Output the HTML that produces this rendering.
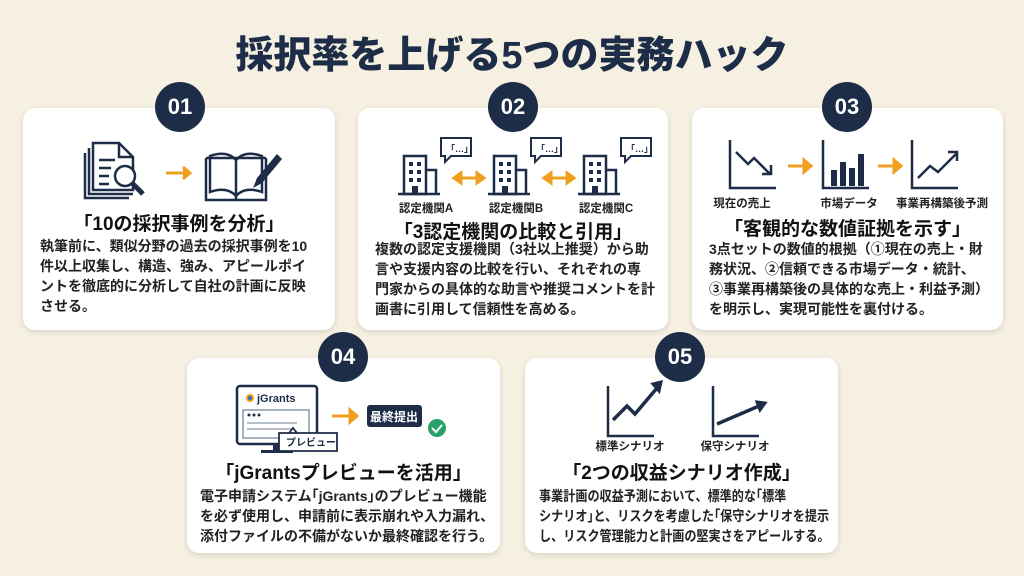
<!DOCTYPE html>
<html><head><meta charset="utf-8"><style>
*{margin:0;padding:0;box-sizing:border-box}
body{width:1024px;height:576px;background:#f5f0e1;font-family:"Liberation Sans","Noto Sans CJK JP",sans-serif;color:#1c1c1c;position:relative;overflow:hidden}
.title{position:absolute;top:24px;left:0;width:1024px;text-align:center;font-size:38px;font-weight:900;color:#1e2d47;letter-spacing:0px}
.card{position:absolute;background:#fff;border-radius:12px;box-shadow:0 2px 6px rgba(0,0,0,.12)}
.badge{position:absolute;width:50px;height:50px;border-radius:50%;background:#1e2d47;color:#fff;font-weight:700;font-size:22px;text-align:center;line-height:50px}
.h{position:absolute;left:0;width:100%;text-align:center;font-size:19px;font-weight:700;color:#111}
.b{position:absolute;font-size:14px;font-weight:700;line-height:20px;color:#222;white-space:nowrap}
.lbl{position:absolute;font-size:11.5px;font-weight:700;color:#222;text-align:center}
svg{position:absolute}
</style></head><body>
<div class="title">採択率を上げる5つの実務ハック</div>

<!-- card 1 -->
<div class="card" style="left:23px;top:108px;width:312px;height:222px">
<svg style="left:0;top:0" width="312" height="222" viewBox="0 0 312 222">
 <g fill="none" stroke="#1e2d47" stroke-width="2.5">
  <path d="M62 45 v45 h44"/><path d="M66 40 v46 h44"/>
  <path d="M70 35 h26 l14 14 v33 h-40z"/><path d="M96 35 v14 h14"/>
  <line x1="76" y1="52" x2="92" y2="52"/><line x1="76" y1="60" x2="88" y2="60"/><line x1="76" y1="68" x2="86" y2="68"/><line x1="76" y1="76" x2="86" y2="76"/>
  <circle cx="102" cy="68" r="10" fill="#fff"/><line x1="109" y1="75" x2="120" y2="86" stroke-width="5"/>
  <path d="M183 50 h60 M183 50 v42 h60 v-42"/>
  <path d="M187 48 q17 -6 26 4 q9 -10 26 -4 v36 q-17 -6 -26 4 q-9 -10 -26 -4 z"/>
  <line x1="213" y1="52" x2="213" y2="92"/>
 </g>
 <path d="M254 46 l-20 24 -4 10 9 -5 20 -24z" fill="#1e2d47"/>
 <g stroke="#f0a020" stroke-width="3" fill="none"><line x1="143" y1="65" x2="165" y2="65"/><path d="M160 59 l7 6 -7 6" fill="#f0a020"/></g>
</svg>
<div class="h" style="top:101px">「10の採択事例を分析」</div>
<div class="b" style="left:17px;top:128px">執筆前に、類似分野の過去の採択事例を10<br>件以上収集し、構造、強み、アピールポイ<br>ントを徹底的に分析して自社の計画に反映<br>させる。</div>
</div>
<div class="badge" style="left:155px;top:82px">01</div>

<!-- card 2 -->
<div class="card" style="left:358px;top:108px;width:310px;height:222px">
<svg style="left:0;top:0" width="310" height="222" viewBox="0 0 310 222">
 <g id="bd" fill="none" stroke="#1e2d47" stroke-width="2.5">
  <rect x="46" y="48" width="22" height="38"/><path d="M68 62 h10 v24"/><line x1="40" y1="86" x2="82" y2="86"/>
  <g fill="#1e2d47" stroke="none"><rect x="51" y="54" width="4" height="4"/><rect x="59" y="54" width="4" height="4"/><rect x="51" y="62" width="4" height="4"/><rect x="59" y="62" width="4" height="4"/><rect x="51" y="70" width="4" height="4"/><rect x="59" y="70" width="4" height="4"/><rect x="54" y="78" width="6" height="8"/></g>
  <path d="M83 30 h30 v18 h-20 l-6 6 v-6 h-4z" stroke-width="2" fill="#fff"/>
 </g>
 <text x="88" y="44" font-size="9" font-weight="700" fill="#1e2d47">「…」</text>
 <use href="#bd" x="90"/><text x="178" y="44" font-size="9" font-weight="700" fill="#1e2d47">「…」</text>
 <use href="#bd" x="180"/><text x="268" y="44" font-size="9" font-weight="700" fill="#1e2d47">「…」</text>
 <g stroke="#f0a020" stroke-width="3" fill="#f0a020"><line x1="98" y1="70" x2="124" y2="70"/><path d="M103 65 l-7 5 7 5z M119 65 l7 5 -7 5z"/>
 <line x1="188" y1="70" x2="214" y2="70"/><path d="M193 65 l-7 5 7 5z M209 65 l7 5 -7 5z"/></g>
</svg>
<div class="lbl" style="left:28px;top:92px;width:80px">認定機関A</div>
<div class="lbl" style="left:118px;top:92px;width:80px">認定機関B</div>
<div class="lbl" style="left:208px;top:92px;width:80px">認定機関C</div>
<div class="h" style="top:109px">「3認定機関の比較と引用」</div>
<div class="b" style="left:17px;top:131px">複数の認定支援機関（3社以上推奨）から助<br>言や支援内容の比較を行い、それぞれの専<br>門家からの具体的な助言や推奨コメントを計<br>画書に引用して信頼性を高める。</div>
</div>
<div class="badge" style="left:488px;top:82px">02</div>

<!-- card 3 -->
<div class="card" style="left:692px;top:108px;width:311px;height:222px">
<svg style="left:0;top:0" width="311" height="222" viewBox="0 0 311 222">
 <g fill="none" stroke="#1e2d47" stroke-width="2.5">
  <path d="M38 32 v48 h46"/><path d="M44 44 l12 12 6 -6 16 16"/><path d="M70 66 h9 v-9" />
  <path d="M131 32 v48 h46"/>
  <path d="M220 32 v48 h46"/><path d="M226 70 l12 -12 8 6 18 -18"/><path d="M256 44 h9 v9"/>
 </g>
 <g fill="#1e2d47"><rect x="139" y="62" width="6" height="16"/><rect x="148" y="54" width="6" height="24"/><rect x="157" y="60" width="6" height="18"/><rect x="166" y="46" width="6" height="32"/></g>
 <g stroke="#f0a020" stroke-width="3" fill="#f0a020"><line x1="96" y1="58" x2="116" y2="58"/><path d="M112 52 l7 6 -7 6z"/><line x1="186" y1="58" x2="206" y2="58"/><path d="M202 52 l7 6 -7 6z"/></g>
</svg>
<div class="lbl" style="left:10px;top:87px;width:80px">現在の売上</div>
<div class="lbl" style="left:117px;top:87px;width:80px">市場データ</div>
<div class="lbl" style="left:195px;top:87px;width:110px">事業再構築後予測</div>
<div class="h" style="top:106px">「客観的な数値証拠を示す」</div>
<div class="b" style="left:17px;top:131px">3点セットの数値的根拠（①現在の売上・財<br>務状況、②信頼できる市場データ・統計、<br>③事業再構築後の具体的な売上・利益予測）<br>を明示し、実現可能性を裏付ける。</div>
</div>
<div class="badge" style="left:822px;top:82px">03</div>

<!-- card 4 -->
<div class="card" style="left:187px;top:358px;width:313px;height:195px">
<svg style="left:0;top:0" width="313" height="195" viewBox="0 0 313 195">
 <rect x="50" y="28" width="80" height="58" rx="3" fill="#fff" stroke="#1e2d47" stroke-width="2.5"/>
 <rect x="86" y="86" width="8" height="6" fill="#1e2d47"/><rect x="74" y="92" width="32" height="3" fill="#1e2d47"/>
 <circle cx="63" cy="40" r="4" fill="#f0a020"/><circle cx="63" cy="40" r="2" fill="#2a6bc0"/>
 <text x="70" y="44" font-size="11" font-weight="700" fill="#1e2d47">jGrants</text>
 <rect x="56" y="52" width="66" height="28" fill="none" stroke="#8a96a8" stroke-width="1.5"/>
 <g fill="#1e2d47"><circle cx="62" cy="57" r="1.5"/><circle cx="67" cy="57" r="1.5"/><circle cx="72" cy="57" r="1.5"/></g>
 <g stroke="#b8c0cc" stroke-width="2"><line x1="60" y1="65" x2="110" y2="65"/><line x1="60" y1="71" x2="105" y2="71"/></g>
 <path d="M92 75 h58 v18 h-58z M102 75 l4 -5 4 5" fill="#fff" stroke="#1e2d47" stroke-width="1.8"/>
 <text x="99" y="88" font-size="10" font-weight="700" fill="#1e2d47">プレビュー</text>
 <g stroke="#f0a020" stroke-width="3" fill="#f0a020"><line x1="145" y1="58" x2="167" y2="58"/><path d="M163 52 l7 6 -7 6z"/></g>
 <rect x="180" y="47" width="55" height="22" rx="3" fill="#1e2d47"/>
 <text x="207" y="63" text-anchor="middle" font-size="12" font-weight="700" fill="#fff">最終提出</text>
 <circle cx="250" cy="70" r="9" fill="#27a06a"/><path d="M245 70 l4 4 6 -7" fill="none" stroke="#fff" stroke-width="2"/>
</svg>
<div class="h" style="top:100px">「jGrantsプレビューを活用」</div>
<div class="b" style="left:13px;top:128px">電子申請システム｢jGrants｣のプレビュー機能<br>を必ず使用し、申請前に表示崩れや入力漏れ、<br>添付ファイルの不備がないか最終確認を行う。</div>
</div>
<div class="badge" style="left:318px;top:332px">04</div>

<!-- card 5 -->
<div class="card" style="left:525px;top:358px;width:313px;height:195px">
<svg style="left:0;top:0" width="313" height="195" viewBox="0 0 313 195">
 <g fill="none" stroke="#1e2d47" stroke-width="2.5">
  <path d="M83 28 v50 h46"/><path d="M88 62 l14 -14 8 8 22 -26" stroke-width="3.5"/>
  <path d="M188 28 v50 h46"/><path d="M192 66 l42 -18" stroke-width="3.5"/>
 </g>
 <path d="M128 26 l8 -2 -2 9z" fill="#1e2d47" stroke="#1e2d47" stroke-width="3"/>
 <path d="M232 44 l8 1 -5 7z" fill="#1e2d47" stroke="#1e2d47" stroke-width="3"/>
</svg>
<div class="lbl" style="left:65px;top:80px;width:80px">標準シナリオ</div>
<div class="lbl" style="left:170px;top:80px;width:80px">保守シナリオ</div>
<div class="h" style="top:100px">「2つの収益シナリオ作成」</div>
<div class="b" style="left:14px;top:128px;transform:scaleX(0.865);transform-origin:0 0">事業計画の収益予測において、標準的な｢標準<br>シナリオ｣と、リスクを考慮した｢保守シナリオを提示<br>し、リスク管理能力と計画の堅実さをアピールする。</div>
</div>
<div class="badge" style="left:655px;top:332px">05</div>
</body></html>
